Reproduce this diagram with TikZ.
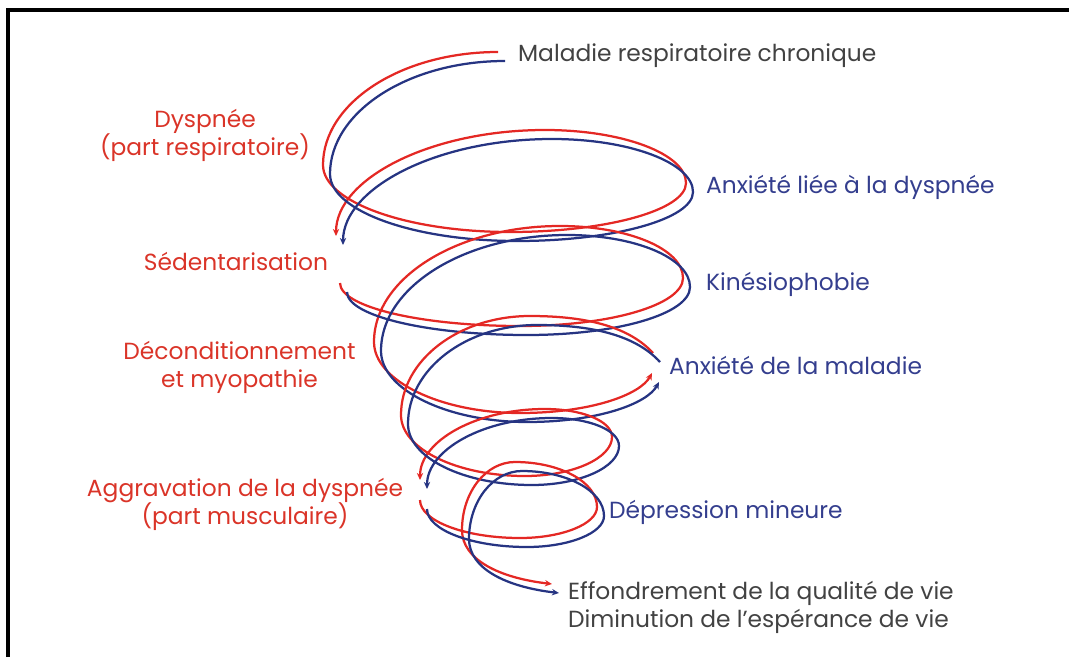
\documentclass[tikz,border=0pt]{standalone}
\usepackage{fontspec}
\setmainfont{Poppins}
\usetikzlibrary{arrows.meta}
\definecolor{spired}{RGB}{228,40,36}
\definecolor{spiblue}{RGB}{38,52,130}
\definecolor{txtred}{RGB}{218,52,40}
\definecolor{txtblue}{RGB}{52,62,142}
\definecolor{txtgray}{RGB}{66,66,66}
\newcommand\spiro[2][]{\draw[spired,#1]#2;\draw[spiblue,shift={(7,9)},#1]#2;}

\begin{document}
\begin{tikzpicture}[x=0.025cm,y=-0.025cm,line width=1.6pt,>={Stealth[length=5pt,width=4.5pt]},
  lbl/.style={font=\fontsize{16.6}{20}\selectfont,inner sep=0pt,anchor=base west}]
\useasboundingbox (0,0) rectangle (1069,657);
\draw[line width=2.2pt,black](8,657)--(8,10)--(1069,10);
\spiro[->]{(498,52) .. controls (401,52) and (323,103) .. (323,165)
 .. controls (323,202) and (407,232) .. (510,232) .. controls (607,232) and (686,210) .. (686,183)
 .. controls (686,154) and (623,130) .. (545,130) .. controls (430,130) and (336,179) .. (336,236)}
\spiro[->]{(340,283) .. controls (340,307) and (421,326) .. (520,326)
 .. controls (610,326) and (683,305) .. (683,278) .. controls (683,249) and (628,226) .. (560,226)
 .. controls (459,226) and (374,277) .. (374,342) .. controls (374,381) and (441,413) .. (520,413)
 .. controls (590,413) and (640,395) .. (652,373)}
\spiro[->]{(653,353) .. controls (630,328) and (590,316) .. (530,316)
 .. controls (459,316) and (401,360) .. (401,415) .. controls (401,449) and (457,476) .. (525,476)
 .. controls (573,476) and (612,458) .. (612,437) .. controls (612,421) and (582,409) .. (545,409)
 .. controls (476,409) and (420,441) .. (420,480)}
\spiro[->]{(420,500) .. controls (420,521) and (465,538) .. (520,538)
 .. controls (562,538) and (597,524) .. (597,507) .. controls (597,482) and (560,462) .. (515,462)
 .. controls (486,462) and (462,492) .. (462,530) .. controls (462,560) and (500,578) .. (552,584)}
\node[lbl,txtgray] (mrc) at (517,62) {Maladie respiratoire chronique};
\node[lbl,txtred,align=center,anchor=center] (dysp) at (205,135.5) {Dyspnée\\(part respiratoire)};
\node[lbl,txtblue] (anxd) at (705,193) {Anxiété liée à la dyspnée};
\node[lbl,txtred,anchor=base] (sed) at (236,270) {Sédentarisation};
\node[lbl,txtblue] (kin) at (705,290) {Kinésiophobie};
\node[lbl,txtred,align=center,anchor=center] (decond) at (239.5,367.5) {Déconditionnement\\et myopathie};
\node[lbl,txtblue] (anxm) at (668,374) {Anxiété de la maladie};
\node[lbl,txtred,align=center,anchor=center] (aggr) at (245,504.5) {Aggravation de la dyspnée\\(part musculaire)};
\node[lbl,txtblue] (depr) at (608,518) {Dépression mineure};
\node[lbl,txtgray,align=left,anchor=west] (effo) at (567,607.5) {Effondrement de la qualité de vie\\Diminution de l’espérance de vie};
\end{tikzpicture}
\end{document}
